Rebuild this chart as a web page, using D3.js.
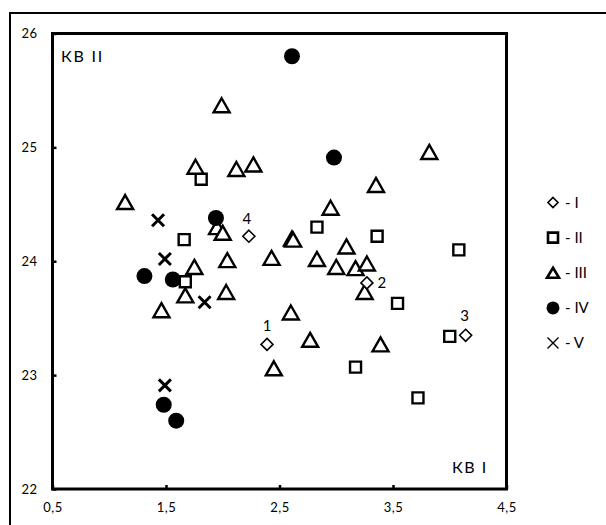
<!DOCTYPE html>
<html><head><meta charset="utf-8">
<script src="https://cdn.jsdelivr.net/npm/d3@7"></script>
<style>body{margin:0;background:#fff}svg{display:block}text{font-family:Lato,"Open Sans",sans-serif;fill:#000}</style>
</head><body><svg id="c" width="606" height="525"></svg>
<script>
// Data (x = КВ I, y = КВ II)
const seriesI = [
  {x:2.39, y:23.27, label:"1"},
  {x:3.27, y:23.81, label:"2"},
  {x:4.14, y:23.35, label:"3"},
  {x:2.23, y:24.22, label:"4"}
];
const seriesII_x = [1.81,1.66,1.67,2.83,3.36,4.08,3.54,4.00,3.17,3.72];
const seriesII_y = [24.72,24.19,23.82,24.30,24.22,24.10,23.63,23.34,23.07,22.80];
const seriesIII_x = [1.99,1.76,2.12,2.27,1.14,1.95,2.00,2.61,2.62,2.04,2.43,1.75,1.67,2.03,1.46,2.83,3.09,3.00,3.17,3.27,3.25,2.60,2.77,3.39,2.45,2.95,3.35,3.82];
const seriesIII_y = [25.37,24.83,24.81,24.85,24.52,24.30,24.25,24.20,24.19,24.01,24.03,23.95,23.70,23.73,23.57,24.02,24.13,23.95,23.94,23.98,23.73,23.55,23.31,23.27,23.06,24.47,24.67,24.96];
const seriesIV_x = [2.61,2.98,1.94,1.31,1.56,1.48,1.59];
const seriesIV_y = [25.80,24.91,24.38,23.87,23.84,22.74,22.60];
const seriesV_x = [1.43,1.49,1.84,1.49];
const seriesV_y = [24.36,24.02,23.64,22.91];
const xTicks = [0.5,1.5,2.5,3.5,4.5];
const yTicks = [22,23,24,25,26];
const legendNames = ["I","II","III","IV","V"];

const svg = d3.select("#c");
const x = d3.scaleLinear().domain([0.5,4.5]).range([52.5,506.5]);
const y = d3.scaleLinear().domain([22,26]).range([489,33.5]);
const fmt = d => String(d).replace(".", ",");

// outer chart border
svg.append("path").attr("d","M10,530 L10,13 L610,13").attr("fill","none").attr("stroke","#000").attr("stroke-width",2);

// axes (inward ticks)
const gx = svg.append("g").attr("transform",`translate(0,${y(22)})`)
  .call(d3.axisBottom(x).tickValues(xTicks).tickFormat(fmt).tickSizeInner(-4).tickSizeOuter(0).tickPadding(18));
gx.select(".domain").remove();
gx.selectAll("text").attr("dy","0.35em");
gx.selectAll("line").attr("stroke-width",2.5);
const gy = svg.append("g").attr("transform",`translate(${x(0.5)},0)`)
  .call(d3.axisLeft(y).tickValues(yTicks).tickFormat(d => String(d)).tickSizeInner(-4).tickSizeOuter(0).tickPadding(15));
gy.select(".domain").remove();
gy.selectAll("line").attr("stroke-width",2.5);
svg.selectAll(".tick text").style("font-family","Lato, 'Open Sans', sans-serif").style("font-size","13px").style("letter-spacing","0.5px");

// plot frame
svg.append("rect").attr("x",x(0.5)).attr("y",y(26)).attr("width",x(4.5)-x(0.5)).attr("height",y(22)-y(26))
  .attr("fill","none").attr("stroke","#000").attr("stroke-width",3);

const tri = "M0,-7L8,7L-8,7Z";
const sq = "M-5.5,-5.5H5.5V5.5H-5.5Z";
const dia = "M0,-6L6,0L0,6L-6,0Z";
const cross = "M-6,-6L6,6M6,-6L-6,6";

const plot = svg.append("g");
// II squares
plot.selectAll(".s2").data(d3.range(seriesII_x.length)).join("path")
  .attr("transform",i=>`translate(${x(seriesII_x[i])},${y(seriesII_y[i])})`)
  .attr("d",sq).attr("fill","#fff").attr("stroke","#000").attr("stroke-width",2.4);
// III triangles
plot.selectAll(".s3").data(d3.range(seriesIII_x.length)).join("path")
  .attr("transform",i=>`translate(${x(seriesIII_x[i])},${y(seriesIII_y[i])})`)
  .attr("d",tri).attr("fill","#fff").attr("stroke","#000").attr("stroke-width",2.4).attr("stroke-linejoin","miter");
// IV circles
plot.selectAll(".s4").data(d3.range(seriesIV_x.length)).join("circle")
  .attr("cx",i=>x(seriesIV_x[i])).attr("cy",i=>y(seriesIV_y[i])).attr("r",8).attr("fill","#000");
// I diamonds
plot.selectAll(".s1").data(seriesI).join("path")
  .attr("transform",d=>`translate(${x(d.x)},${y(d.y)})`)
  .attr("d",dia).attr("fill","#fff").attr("stroke","#000").attr("stroke-width",1.6);
// labels of I
const lblOff = {"1":[0,-13],"2":[15,5],"3":[-1,-14],"4":[-2,-12]};
plot.selectAll(".l1").data(seriesI).join("text")
  .attr("x",d=>x(d.x)+lblOff[d.label][0]).attr("y",d=>y(d.y)+lblOff[d.label][1])
  .attr("text-anchor","middle").attr("font-size",15).text(d=>d.label);
// V crosses
plot.selectAll(".s5").data(d3.range(seriesV_x.length)).join("path")
  .attr("transform",i=>`translate(${x(seriesV_x[i])},${y(seriesV_y[i])})`)
  .attr("d",cross).attr("fill","none").attr("stroke","#000").attr("stroke-width",3);

// axis titles
svg.append("text").attr("x",61).attr("y",62).attr("font-size",16).attr("letter-spacing","1.8px").text("КВ II");
svg.append("text").attr("x",452).attr("y",473).attr("font-size",16).attr("letter-spacing","1.5px").text("КВ I");

// legend
const ly = d3.scalePoint().domain(legendNames).range([202.5,343]);
const lg = svg.append("g");
lg.append("path").attr("transform",`translate(553,${ly("I")})`).attr("d","M0,-5L5,0L0,5L-5,0Z").attr("fill","#fff").attr("stroke","#000").attr("stroke-width",1.6);
lg.append("path").attr("transform",`translate(553,${ly("II")})`).attr("d","M-5,-5H5V5H-5Z").attr("fill","#fff").attr("stroke","#000").attr("stroke-width",2.6);
lg.append("path").attr("transform",`translate(553,${ly("III")})`).attr("d","M0,-5L6,5L-6,5Z").attr("fill","#fff").attr("stroke","#000").attr("stroke-width",2.6);
lg.append("circle").attr("cx",553).attr("cy",ly("IV")).attr("r",6.5).attr("fill","#000");
lg.append("path").attr("transform",`translate(553,${ly("V")})`).attr("d","M-5.5,-5.5L5.5,5.5M5.5,-5.5L-5.5,5.5").attr("stroke","#000").attr("stroke-width",1.4);
lg.selectAll("text").data(legendNames).join("text")
  .attr("x",565).attr("y",d=>ly(d)).attr("dy","0.35em").attr("font-size",15).text(d=>"- "+d);
</script></body></html>
